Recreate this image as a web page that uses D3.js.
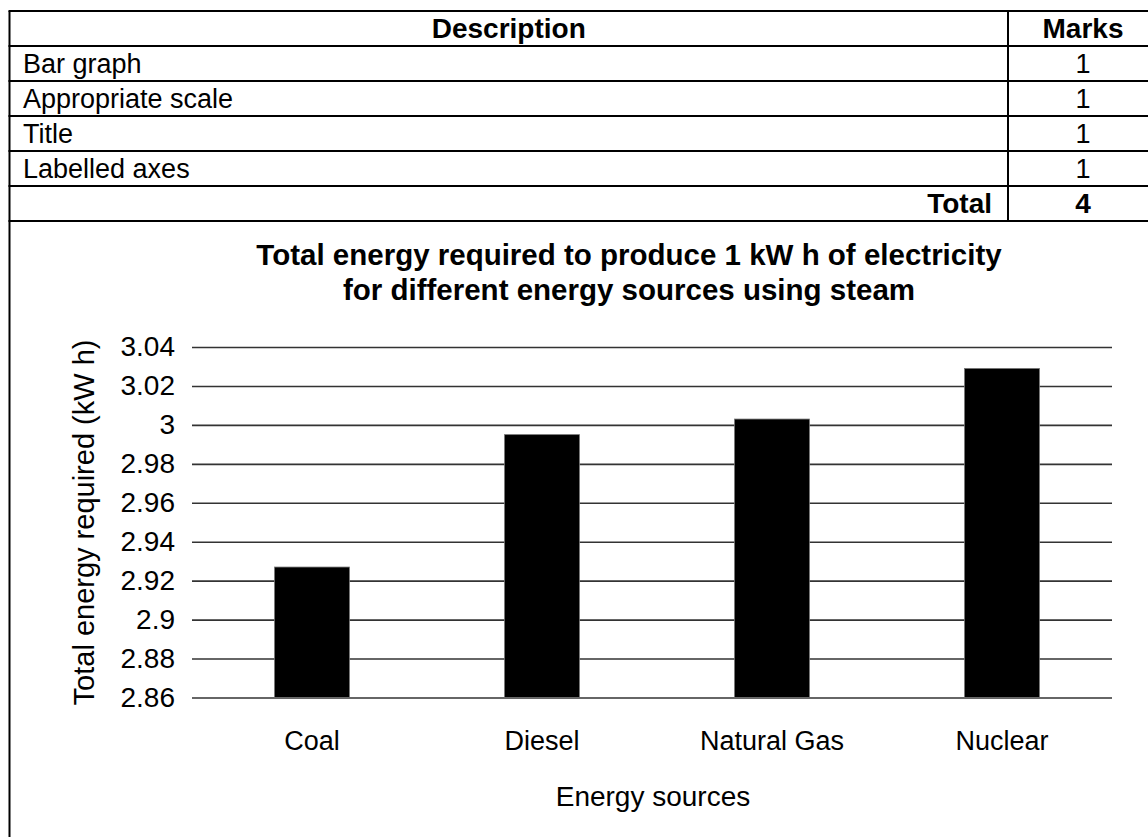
<!DOCTYPE html>
<html>
<head>
<meta charset="utf-8">
<script src="https://cdn.jsdelivr.net/npm/d3@7"></script>
<style>
  html, body { margin: 0; padding: 0; background: #fff; }
  svg { display: block; font-family: Arial, "Liberation Sans", sans-serif; }
</style>
</head>
<body>
<svg id="c" width="1148" height="837"></svg>
<script>
// ---- data ----
const tableHeaders = ["Description", "Marks"];
const tableDescriptions = ["Bar graph", "Appropriate scale", "Title", "Labelled axes"];
const tableMarks = [1, 1, 1, 1];
const totalLabel = "Total";
const totalMarks = 4;

const chartTitle = ["Total energy required to produce 1 kW h of electricity",
                    "for different energy sources using steam"];
const categories = ["Coal", "Diesel", "Natural Gas", "Nuclear"];
const values = [2.927, 2.995, 3.003, 3.029];
const yTicks = [2.86, 2.88, 2.90, 2.92, 2.94, 2.96, 2.98, 3.00, 3.02, 3.04];
const yLabel = "Total energy required (kW h)";
const xLabel = "Energy sources";

// ---- drawing ----
const svg = d3.select("#c");
const W = 1148, H = 837;

// Table
const tLeft = 9.5, tRight = 1148, colDiv = 1008;
const rowY = d3.scaleLinear().domain([0, 6]).range([11, 221]);
const tg = svg.append("g");
d3.range(7).forEach(i => {
  tg.append("line").attr("x1", tLeft - 1).attr("x2", tRight)
    .attr("y1", rowY(i)).attr("y2", rowY(i))
    .attr("stroke", "#000").attr("stroke-width", 2);
});
tg.append("line").attr("x1", tLeft).attr("x2", tLeft).attr("y1", rowY(0)).attr("y2", H)
  .attr("stroke", "#000").attr("stroke-width", 2);
tg.append("line").attr("x1", colDiv).attr("x2", colDiv).attr("y1", rowY(0)).attr("y2", rowY(6))
  .attr("stroke", "#000").attr("stroke-width", 2);

const tFont = 27, baseOff = 27;
const markX = 1083;
tg.append("text").attr("x", (tLeft + colDiv) / 2).attr("y", rowY(0) + baseOff)
  .attr("text-anchor", "middle").attr("font-weight", "bold").attr("font-size", 28)
  .text(tableHeaders[0]);
tg.append("text").attr("x", markX).attr("y", rowY(0) + baseOff)
  .attr("text-anchor", "middle").attr("font-weight", "bold").attr("font-size", 28)
  .text(tableHeaders[1]);
tableDescriptions.forEach((d, i) => {
  tg.append("text").attr("x", 23).attr("y", rowY(i + 1) + baseOff)
    .attr("font-size", tFont).text(d);
  tg.append("text").attr("x", markX).attr("y", rowY(i + 1) + baseOff)
    .attr("text-anchor", "middle").attr("font-size", tFont).text(tableMarks[i]);
});
tg.append("text").attr("x", 992).attr("y", rowY(5) + baseOff)
  .attr("text-anchor", "end").attr("font-weight", "bold").attr("font-size", 28)
  .text(totalLabel);
tg.append("text").attr("x", markX).attr("y", rowY(5) + baseOff)
  .attr("text-anchor", "middle").attr("font-weight", "bold").attr("font-size", 28)
  .text(totalMarks);

// Chart
const gridL = 192, gridR = 1112;
const y = d3.scaleLinear().domain([2.86, 3.04]).range([697.5, 347]);
const x = d3.scaleBand().domain(categories).range([197, 1117]).paddingInner(0.674).paddingOuter(0.337);

const cg = svg.append("g");
chartTitle.forEach((t, i) => {
  cg.append("text").attr("x", 629).attr("y", 265 + i * 35)
    .attr("text-anchor", "middle").attr("font-weight", "bold").attr("font-size", 29.5)
    .text(t);
});

// gridlines via axis
const yAxis = d3.axisLeft(y).tickValues(yTicks).tickSize(-(gridR - gridL)).tickPadding(17)
  .tickFormat(d => String(+d.toFixed(2)));
const ya = cg.append("g").attr("transform", `translate(${gridL},0)`).call(yAxis);
ya.select(".domain").remove();
ya.selectAll(".tick line").attr("stroke", "#333").attr("stroke-width", 1.6);
ya.selectAll(".tick text").attr("font-size", 28).attr("fill", "#000")
  .attr("font-family", "Arial, 'Liberation Sans', sans-serif");

// bars
cg.selectAll("rect.bar").data(categories).enter().append("rect")
  .attr("class", "bar")
  .attr("x", d => x(d))
  .attr("width", x.bandwidth())
  .attr("y", (d, i) => y(values[i]))
  .attr("height", (d, i) => y(2.86) - y(values[i]))
  .attr("fill", "#000").attr("stroke", "#777").attr("stroke-width", 0.8);

// x axis labels
const xAxis = d3.axisBottom(x).tickSize(0).tickPadding(33);
const xa = cg.append("g").attr("transform", `translate(0,${y(2.86)})`).call(xAxis);
xa.select(".domain").remove();
xa.selectAll(".tick text").attr("font-size", 27).attr("fill", "#000")
  .attr("font-family", "Arial, 'Liberation Sans', sans-serif");

// axis titles
cg.append("text").attr("x", 653).attr("y", 806).attr("text-anchor", "middle")
  .attr("font-size", 28).text(xLabel);
cg.append("text").attr("transform", `translate(94,${(338 + 707) / 2}) rotate(-90)`)
  .attr("text-anchor", "middle").attr("font-size", 29).text(yLabel);
</script>
</body>
</html>
